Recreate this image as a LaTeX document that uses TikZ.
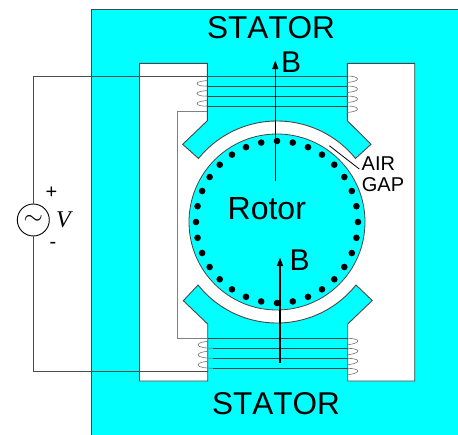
\documentclass[tikz,border=0pt]{standalone}
\usepackage{fontspec}
\setmainfont{Liberation Sans}
\newfontfamily\serifv{Liberation Serif}
\newfontfamily\nokern[Kerning=Off]{Liberation Sans}
\usetikzlibrary{arrows.meta}
\definecolor{statorc}{RGB}{0,255,255}
\definecolor{edgec}{RGB}{70,70,70}
\tikzset{
  outline/.style={draw=edgec,line width=0.9pt,line join=miter},
  wire/.style={draw=black!75,line width=0.9pt},
  returnwire/.style={draw=black!50,line width=1.2pt},
  coilloop/.style={draw=black!55,line width=0.6pt},
  fluxarrow/.style={draw=black,line width=1.2pt,-{Triangle[length=8.5pt,width=6pt]}},
  bigtext/.style={inner sep=0pt,anchor=base west,font=\fontsize{31.5}{32}\nokern,text=black},
  rotortext/.style={inner sep=0pt,anchor=base west,font=\fontsize{32}{32}\selectfont,text=black},
  btext/.style={inner sep=0pt,anchor=base west,font=\fontsize{30}{30}\selectfont,text=black},
  smalltext/.style={inner sep=0pt,anchor=base west,font=\fontsize{20}{20}\selectfont,text=black},
  slotdot/.style={fill=black,circle,inner sep=0pt,minimum size=6.6pt}
}
\begin{document}
\begin{tikzpicture}[x=1pt,y=-1pt]
\useasboundingbox (0,0) rectangle (458,434);
\fill[white] (0,0) rectangle (458,434);
% stator body
\fill[black!30] (91,8.5) rectangle (458,10);
\path[fill=statorc,draw=edgec,line width=0.8pt] (91.5,9.5) -- (459,9.5) -- (459,435) -- (91.5,435) -- cycle;
% window in stator
\path[outline,fill=white]
  (139.5,63.3) -- (207.3,63.3) -- (207.3,120.7) -- (182.7,144.3) -- (198.3,158.3)
  -- plot[domain=219:321,samples=60] ({277+101*cos(\x)},{222+101*sin(\x)})
  -- (371,144.3) -- (347.3,120.7) -- (347.3,63.3) -- (414.7,63.3) -- (414.7,381)
  -- (347.7,381) -- (347.7,324) -- (372.3,300.5) -- (356.7,285.7)
  -- plot[domain=38.6:141.4,samples=60] ({277+101*cos(\x)},{222+101*sin(\x)})
  -- (183.3,300.7) -- (207.7,324) -- (207.7,381) -- (139.5,381) -- cycle;
% rotor
\node[circle,minimum size=176pt,inner sep=0pt,fill=statorc,draw=edgec,line width=0.8pt] (rotor) at (277,222) {};
\foreach \a in {0,11.25,...,349} {
  \node[slotdot] at ({277+81*cos(\a)},{222+81*sin(\a)}) {};
}
% source
\node[circle,draw=black,line width=0.9pt,fill=white,minimum size=32pt,inner sep=0pt,font=\fontsize{24}{24}\selectfont] (src) at (33.3,220) {\raisebox{-1pt}{$\sim$}};
\coordinate (wtl) at (33.3,76);
\coordinate (wbl) at (33.3,371.7);
\coordinate (wtr) at (347.3,76);
\coordinate (wbr) at (207.7,371.7);
\draw[wire,draw=black!70] (src.north) -- (wtl) -- (wtr);
\draw[wire,draw=black!70] (src.south) -- (wbl) -- (wbr);
% return wire between coils
\coordinate (rt) at (207.3,111.7);
\coordinate (rtc) at (177.7,111.7);
\coordinate (rbc) at (177.7,338.3);
\coordinate (rb) at (347.7,338.3);
\draw[returnwire] (rt) -- (rtc) -- (rbc) -- (207.7,338.3);
\draw[wire] (207.7,338.3) -- (rb);
% top coil
\foreach \y in {86,96,106} {
  \draw[wire] (207.3,\y) -- (347.3,\y);
  \draw[coilloop] (207.3,\y) .. controls (203,\y+0.5) and (197,{\y-0.5}) .. (197,{\y-2.5}) .. controls (197,{\y-4.5}) and (203,{\y-5}) .. (207.3,{\y-5.5});
}
\foreach \y in {76,86,96,106} {
  \draw[coilloop] (347.3,\y) .. controls (352,\y) and (357.5,{\y+1}) .. (357.5,{\y+3}) .. controls (357.5,{\y+5}) and (352,{\y+6}) .. (347.3,{\y+6.5});
}
% bottom coil
\foreach \y in {348.3,358.3,368.3} {
  \draw[wire] (212.7,\y) -- (347.7,\y);
  \draw[coilloop] (212.7,\y) .. controls (207,\y) and (198,{\y-1}) .. (198,{\y-3.3}) .. controls (198,{\y-5.5}) and (203,{\y-6.5}) .. (207.7,{\y-7});
}
\foreach \y in {338.3,348.3,358.3,368.3} {
  \draw[coilloop] (347.7,\y) .. controls (352,\y) and (358,{\y+1}) .. (358,{\y+2.7}) .. controls (358,{\y+4.5}) and (352,{\y+6}) .. (347.7,{\y+6.5});
}
% flux arrows
\coordinate (at0) at (275.3,180.7);
\coordinate (at1) at (275.3,60.5);
\coordinate (ab0) at (280,362.7);
\coordinate (ab1) at (280,257.5);
\draw[fluxarrow] (at0) -- (at1);
\draw[fluxarrow] (ab0) -- (ab1);
% air gap leader
\coordinate (g0) at (329.3,145.7);
\coordinate (g1) at (359.3,169);
\draw[draw=black,line width=0.8pt] (g0) -- (g1);
% labels
\node[bigtext] (st) at (207,38.3) {STATOR};
\node[bigtext] (sb) at (212,414) {STATOR};
\node[rotortext] (rl) at (227.5,219.3) {Rotor};
\node[btext] (b1) at (281,72.7) {B};
\node[btext] (b2) at (289.5,270) {B};
\node[smalltext] (air) at (361.5,170) {AIR};
\node[smalltext] (gap) at (361.7,191.7) {GAP};
\node[inner sep=0pt,anchor=base west,font=\fontsize{24}{24}\serifv\itshape] (vl) at (56,227) {V};
\node[inner sep=0pt,font=\fontsize{20}{20}\selectfont] (pl) at (51.5,192.5) {+};
\node[inner sep=0pt,font=\fontsize{20}{20}\selectfont] (ml) at (53,245) {-};
\end{tikzpicture}
\end{document}
